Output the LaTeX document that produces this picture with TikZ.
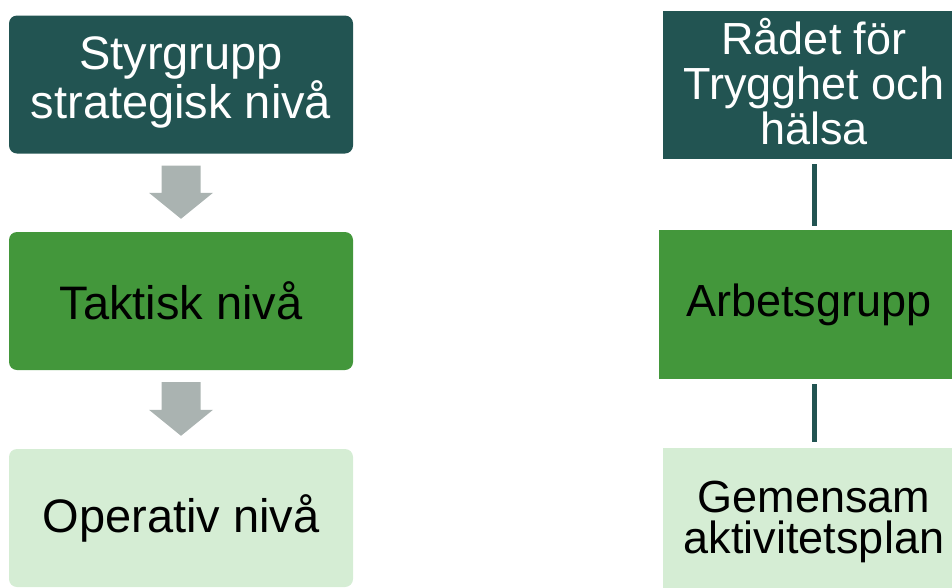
\documentclass[tikz,border=0pt]{standalone}
\usepackage{fontspec}
\setmainfont{Liberation Sans}
\usetikzlibrary{calc}
\definecolor{darkteal}{HTML}{225452}
\definecolor{midgreen}{HTML}{43973B}
\definecolor{palegreen}{HTML}{D5EDD4}
\definecolor{arrowgray}{HTML}{AAB3B1}
\tikzset{
  levelbox/.style={rounded corners=8pt, minimum width=344pt, minimum height=138pt,
    align=center, inner sep=0pt, font=\fontsize{47}{45}\selectfont},
  groupbox/.style={minimum width=302pt, minimum height=148pt,
    align=center, inner sep=0pt, font=\fontsize{45}{45}\selectfont},
  link/.style={draw=darkteal, line width=5pt},
}
\begin{document}
\begin{tikzpicture}[x=1pt, y=-1pt]
\path[use as bounding box] (0,0) rectangle (952,587);
\clip (0,0) rectangle (952,587);

% Left column: levels
\node[levelbox, fill=darkteal, text=white, text depth=14pt] (l1) at (181,84.5) {Styrgrupp\\strategisk nivå};
\node[levelbox, fill=midgreen] (l2) at (181,301) {Taktisk nivå};
\node[levelbox, fill=palegreen] (l3) at (181,518) {Operativ nivå};

% Block arrows between the levels
\foreach \a/\b in {l1/l2, l2/l3} {
  \fill[arrowgray] ($(\a.south)+(-19.5,12)$) -- ($(\a.south)+(19.5,12)$)
    -- ($(\b.north)+(19.5,-39)$) -- ($(\b.north)+(32,-39)$) -- ($(\b.north)+(0,-13)$)
    -- ($(\b.north)+(-32,-39)$) -- ($(\b.north)+(-19.5,-39)$) -- cycle;
}

% Right column: groups
\node[groupbox, fill=darkteal, text=white, text depth=7pt] (r1) at (814,85) {Rådet för\\Trygghet och\\hälsa};
\node[groupbox, fill=midgreen, minimum width=300pt, minimum height=149pt] (r2) at (809,304.5) {Arbetsgrupp};
\node[groupbox, fill=palegreen, font=\fontsize{45}{41}\selectfont] (r3) at (814,521.5) {Gemensam\\aktivitetsplan};

% Plain links
\draw[link] ($(r1.south)+(0.5,5)$) -- ($(r2.north -| r1.south)+(0.5,-4)$);
\draw[link] ($(r3.north |- r2.south)+(0.5,5)$) -- ($(r3.north)+(0.5,-5)$);
\end{tikzpicture}
\end{document}
